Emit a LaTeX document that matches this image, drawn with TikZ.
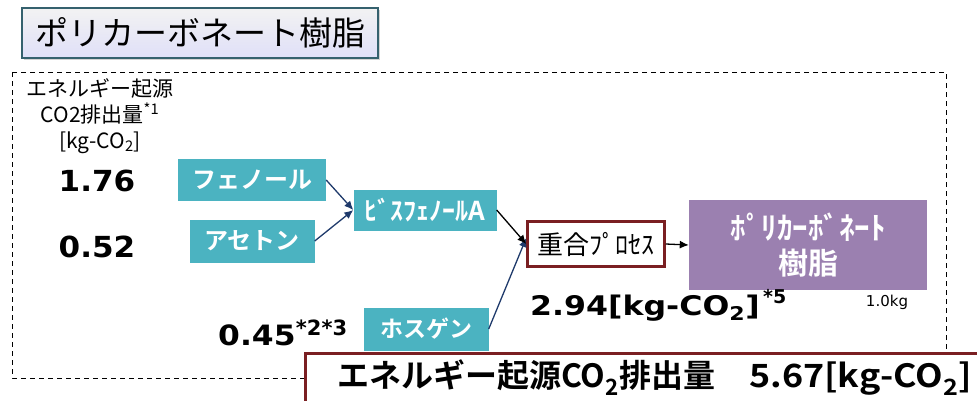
\documentclass[tikz,border=0pt]{standalone}
\usepackage{fontspec}
\usepackage{graphicx}
\setmainfont{Noto Sans CJK JP}
\newfontfamily\jpb{Noto Sans CJK JP Bold}
\newfontfamily\numf{DejaVu Sans}
\usetikzlibrary{arrows.meta,shadows}
\definecolor{teal1}{HTML}{4BB3C1}
\definecolor{purp}{HTML}{9B80B0}
\definecolor{dred}{HTML}{7A1F22}
\definecolor{navy}{HTML}{1F3A6B}
\definecolor{tborder}{HTML}{35616E}
\tikzset{
  matbox/.style={fill=teal1,text=white,inner sep=0pt,font=\jpb\fontsize{24}{26}\selectfont},
  procbox/.style={draw=dred,line width=2.5pt,fill=white,inner sep=0pt},
  navyarr/.style={draw=navy,line width=1.3pt,-{Latex[length=9pt,width=8pt]}},
  blkarr/.style={draw=black,line width=1.3pt,-{Latex[length=9pt,width=8pt]}},
  bignum/.style={font=\numf\bfseries\fontsize{29}{30}\selectfont,inner sep=0pt},
}
\begin{document}
\begin{tikzpicture}[x=1pt,y=-1pt]
\useasboundingbox (0,0) rectangle (977,400);
% title
\node[draw=tborder,line width=1.5pt,top color=white!90!gray,bottom color=gray!35!blue!15!white,
  minimum width=356pt,minimum height=50pt,inner sep=0pt,
  drop shadow={shadow xshift=2pt,shadow yshift=-2pt,opacity=0.35},
  font=\fontsize{33}{35}\selectfont] (title) at (200,33) {ポリカーボネート樹脂};
% dashed frame
\draw[dashed,line width=1pt,dash pattern=on 5pt off 4pt] (12,72) rectangle (946,378);
% header text
\node[align=center,font=\fontsize{21}{26}\selectfont,inner sep=0pt] (hdr) at (100,116)
  {エネルギー起源\\CO2排出量\textsuperscript{*1}\\{}{[}kg-CO\textsubscript{2}{]}};
\node[bignum] (n1) at (97,181) {\scalebox{1.07}[1]{1.76}};
\node[bignum] (n2) at (97,247) {\scalebox{1.07}[1]{0.52}};
% materials
\node[matbox,minimum width=148pt,minimum height=42pt] (phen) at (252,180) {フェノール};
\node[matbox,minimum width=125pt,minimum height=43pt] (acet) at (252,241) {アセトン};
\node[matbox,minimum width=143pt,minimum height=41pt,font=\jpb\fontsize{26}{28}\selectfont] (bisa) at (425,210) {ﾋﾞｽﾌｪﾉｰﾙA};
\node[matbox,minimum width=125pt,minimum height=43pt,font=\jpb\fontsize{23}{25}\selectfont] (phos) at (426,329) {ホスゲン};
\node[font=\numf\bfseries\fontsize{28}{30}\selectfont,inner sep=0pt,anchor=base west] (n3) at (218,345) {\scalebox{1.12}[1]{0.45}};
\node[font=\numf\bfseries\fontsize{21}{22}\selectfont,inner sep=0pt,anchor=base west] (n3s) at ([yshift=10pt]n3.base east) {*2*3};
% process
\node[procbox,minimum width=137pt,minimum height=45pt,font=\fontsize{26}{28}\selectfont] (proc) at (596,244) {重合ﾌﾟﾛｾｽ};
\node[fill=purp,text=white,minimum width=238pt,minimum height=90pt,inner sep=0pt,align=center,
  font=\jpb\fontsize{31}{35}\selectfont] (pc) at (808,245) {ﾎﾟﾘｶｰﾎﾞﾈｰﾄ\\\fontsize{30}{32}\selectfont 樹脂};
\node[font=\numf\bfseries\fontsize{27}{29}\selectfont,inner sep=0pt,anchor=base west] (res) at (530,315)
  {\scalebox{1.17}[1]{2.94{[}kg-CO\textsubscript{2}{]}}};
\node[font=\numf\bfseries\fontsize{19}{20}\selectfont,inner sep=0pt,anchor=base west] (ress) at ([xshift=3pt,yshift=12pt]res.base east) {*5};
\node[font=\numf\fontsize{15}{16}\selectfont,inner sep=0pt] (kg) at (887,302) {1.0kg};
% arrows
\draw[navyarr] (phen.east) -- (bisa.west);
\draw[navyarr] (acet.east) -- (bisa.west);
\draw[navyarr] (phos.east) -- ([yshift=6pt]proc.west);
\draw[blkarr] (bisa.east) -- (proc.west);
\draw[blkarr] (proc.east) -- (pc.west);
% bottom box
\node[draw=dred,line width=2.5pt,fill=white,minimum width=700pt,minimum height=70pt,anchor=north west,inner sep=0pt] (tot) at (304,352) {};
\node[font=\jpb\fontsize{32}{34}\selectfont,inner sep=0pt,anchor=west] (tottxt) at (337,378)
  {エネルギー起源CO\textsubscript{2}排出量\hspace{34pt}\scalebox{1.12}[1]{5.67{[}kg-CO\textsubscript{2}{]}}};
\end{tikzpicture}
\end{document}
